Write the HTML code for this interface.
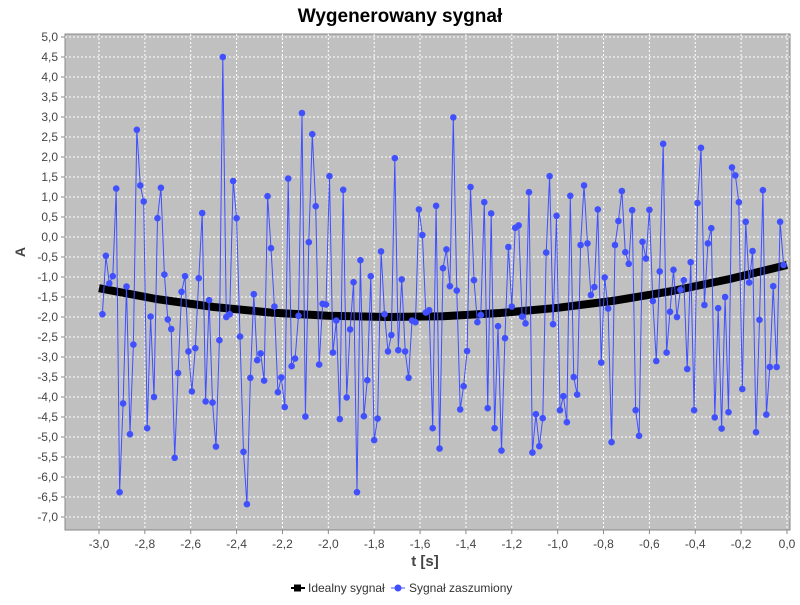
<!DOCTYPE html>
<html><head><meta charset="utf-8"><style>
body{margin:0;background:#fff;width:800px;height:600px;overflow:hidden;font-family:"Liberation Sans",sans-serif}
</style></head><body>
<svg id="chart" width="800" height="600" xmlns="http://www.w3.org/2000/svg">
<text x="400" y="22" text-anchor="middle" font-size="19" font-weight="bold" font-family="Liberation Sans, sans-serif">Wygenerowany sygnał</text>
<rect x="65" y="34" width="725" height="496" fill="#c0c0c0" stroke="#888" stroke-width="1"/>
<g id="grid"></g>
<g id="axes"></g>
<g id="series"></g>
<text x="425" y="566" text-anchor="middle" font-size="15" font-weight="bold" fill="#444">t [s]</text>
<text transform="translate(25,252) rotate(-90)" text-anchor="middle" font-size="14" font-weight="bold" fill="#444">A</text>
<g>
<g>
<line x1="291" y1="588" x2="305" y2="588" stroke="#000" stroke-width="2"/>
<rect x="294" y="584.5" width="7" height="7" fill="#000"/>
<text x="308" y="592" font-size="12" fill="#333">Idealny sygnał</text>
</g>
<g>
<line x1="391" y1="588" x2="405" y2="588" stroke="#4050ff" stroke-width="1"/>
<circle cx="398" cy="588" r="3.5" fill="#4050ff"/>
<text x="409" y="592" font-size="12" fill="#333">Sygnał zaszumiony</text>
</g>
</g>
</svg>
<script>
const noisyValues=[-1.93,-0.47,-1.16,-0.98,1.21,-6.38,-4.16,-1.24,-4.93,-2.69,2.68,1.29,0.89,-4.78,-1.99,-4.0,0.47,1.23,-0.94,-2.06,-2.30,-5.52,-3.4,-1.37,-0.98,-2.86,-3.86,-2.78,-1.03,0.60,-4.11,-1.58,-4.14,-5.24,-2.58,4.50,-2.0,-1.93,1.40,0.47,-2.49,-5.37,-6.68,-3.52,-1.43,-3.08,-2.91,-3.59,1.02,-0.28,-1.74,-3.88,-3.51,-4.25,1.46,-3.23,-3.04,-1.97,3.10,-4.49,-0.13,2.57,0.77,-3.19,-1.67,-1.69,1.52,-2.89,-2.09,-4.55,1.18,-4.01,-2.31,-1.13,-6.38,-0.58,-4.48,-3.58,-0.98,-5.08,-4.54,-0.36,-1.93,-2.86,-2.45,1.97,-2.83,-1.06,-2.86,-3.52,-2.09,-2.13,0.69,0.05,-1.89,-1.83,-4.78,0.78,-5.29,-0.78,-0.31,-1.23,2.99,-1.34,-4.31,-3.73,-2.85,1.25,-1.08,-2.13,-1.95,0.87,-4.28,0.59,-4.78,-2.23,-5.34,-2.53,-0.25,-1.74,0.23,0.29,-1.99,-2.16,1.12,-5.39,-4.43,-5.23,-4.53,-0.39,1.52,-2.18,0.53,-4.33,-3.98,-4.63,1.03,-3.50,-3.94,-0.20,1.29,-0.16,-1.45,-1.25,0.69,-3.14,-1.01,-1.79,-5.13,-0.20,0.40,1.15,-0.38,-0.67,0.67,-4.33,-4.97,-0.12,-0.54,0.68,-1.60,-3.10,-0.86,2.33,-2.89,-1.87,-0.82,-2.0,-1.32,-1.08,-3.30,-0.63,-4.33,0.85,2.23,-1.70,-0.16,0.22,-4.51,-1.78,-4.79,-1.5,-4.38,1.74,1.54,0.87,-3.80,0.38,-1.14,-0.35,-4.88,-2.07,1.17,-4.44,-3.25,-1.23,-3.25,0.38,-0.70];
const noisyStart=-2.985;
const noisyStep=0.015;
const idealX=[-3.0,-2.75,-2.5,-2.25,-2.0,-1.75,-1.5,-1.25,-1.0,-0.75,-0.5,-0.25,0.0];
const idealValues=[-1.28,-1.55,-1.75,-1.89,-1.97,-2.0,-1.98,-1.90,-1.77,-1.59,-1.35,-1.05,-0.70];
const xTickLabels=["-3,0","-2,8","-2,6","-2,4","-2,2","-2,0","-1,8","-1,6","-1,4","-1,2","-1,0","-0,8","-0,6","-0,4","-0,2","0,0"];
const yTickLabels=["5,0","4,5","4,0","3,5","3,0","2,5","2,0","1,5","1,0","0,5","0,0","-0,5","-1,0","-1,5","-2,0","-2,5","-3,0","-3,5","-4,0","-4,5","-5,0","-5,5","-6,0","-6,5","-7,0"];
const NS="http://www.w3.org/2000/svg";
function sx(v){return 99+(v+3.0)*229.33;}
function sy(v){return 237-v*40;}
function mk(tag,attrs,parent){const e=document.createElementNS(NS,tag);for(const k in attrs)e.setAttribute(k,attrs[k]);parent.appendChild(e);return e;}
const grid=document.getElementById('grid'),axes=document.getElementById('axes'),ser=document.getElementById('series');
xTickLabels.forEach((l,i)=>{const v=-3.0+i*0.2;const x=sx(v);
 const g=mk('line',{x1:x,y1:34,x2:x,y2:530,stroke:'#fff','stroke-dasharray':'2,2','stroke-width':1},grid);
 
 
 mk('line',{x1:x,y1:530,x2:x,y2:534,stroke:'#888'},axes);
 const t=mk('text',{x:x,y:548,'text-anchor':'middle','font-size':12,fill:'#444'},axes);t.textContent=l;
 
 
});
yTickLabels.forEach((l,i)=>{const v=5.0-i*0.5;const y=sy(v);
 const g=mk('line',{x1:65,y1:y,x2:790,y2:y,stroke:'#fff','stroke-dasharray':'2,2','stroke-width':1},grid);
 
 
 mk('line',{x1:61,y1:y,x2:65,y2:y,stroke:'#888'},axes);
 const t=mk('text',{x:58,y:y+4,'text-anchor':'end','font-size':12,fill:'#444'},axes);t.textContent=l;
 
 
});
// ideal line
const ip=idealX.map((x,i)=>sx(x).toFixed(1)+','+sy(idealValues[i]).toFixed(1)).join(' ');
const il=mk('polyline',{points:ip,fill:'none',stroke:'#000','stroke-width':8,'stroke-linejoin':'round'},ser);


// noisy
const np=noisyValues.map((v,i)=>sx(noisyStart+i*noisyStep).toFixed(1)+','+sy(v).toFixed(1)).join(' ');
const nl=mk('polyline',{points:np,fill:'none',stroke:'#4050ff','stroke-width':1},ser);


noisyValues.forEach((v,i)=>{const c=mk('circle',{cx:sx(noisyStart+i*noisyStep),cy:sy(v),r:3.3,fill:'#4050ff'},ser);
 
 
});
</script>
</body></html>
